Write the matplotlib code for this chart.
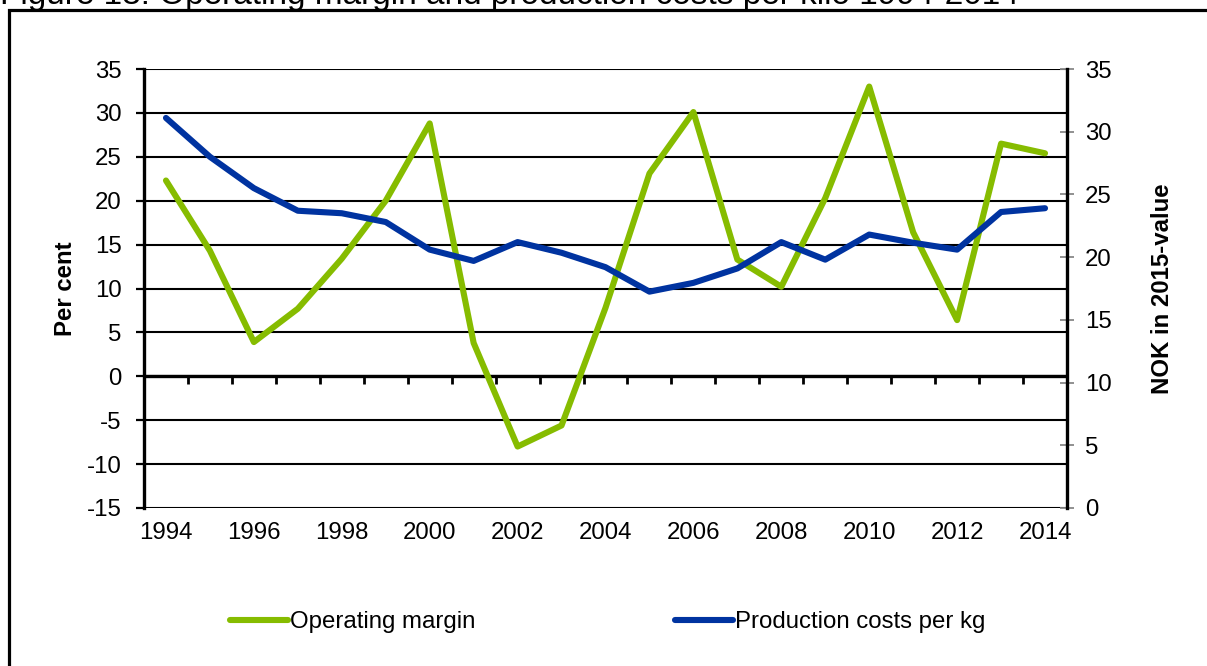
import matplotlib
matplotlib.use("Agg")
import matplotlib.pyplot as plt
from matplotlib.lines import Line2D
from matplotlib.patches import Rectangle
import numpy as np

plt.rcParams['font.family'] = ['Liberation Sans', 'DejaVu Sans']
plt.rcParams['axes.unicode_minus'] = False

years = list(range(1994, 2015))
operating_margin = [22.3, 14.3, 3.9, 7.7, 13.4, 20.0, 28.8, 3.8, -8.0, -5.6, 7.8,
                    23.1, 30.1, 13.3, 10.2, 20.3, 33.0, 16.4, 6.4, 26.5, 25.4]
production_costs = [31.1, 28.0, 25.5, 23.7, 23.5, 22.8, 20.6, 19.7, 21.2, 20.35, 19.2,
                    17.25, 17.95, 19.1, 21.2, 19.8, 21.8, 21.15, 20.6, 23.6, 23.9]
year_labels = [str(y) if (y - 1994) % 2 == 0 else "" for y in years]

title = "Figure 13: Operating margin and production costs per kilo 1994-2014"
green = '#86bc00'
blue = '#0033a0'
fs = 17.3

fig = plt.figure(figsize=(12.07, 6.66), dpi=100)
ax = fig.add_axes([144/1207, 1 - 508/666, (1067 - 144)/1207, (508 - 69)/666])
ax2 = ax.twinx()

x = np.arange(len(years))

ax.plot(x, operating_margin, color=green, lw=4.4, solid_joinstyle='round',
        solid_capstyle='round', zorder=3)
ax2.plot(x, production_costs, color=blue, lw=4.4, solid_joinstyle='round',
         solid_capstyle='round', zorder=3)

ax.set_xlim(-0.5, len(years) - 0.5)
ax.set_ylim(-15, 35)
ax.set_yticks(np.arange(-15, 36, 5))
ax2.set_ylim(0, 35)
ax2.set_yticks(np.arange(0, 36, 5))

# gridlines
ax.yaxis.grid(True, color='black', lw=1.5)
ax.set_axisbelow(True)
ax.axhline(0, color='black', lw=2.4, zorder=2)

# category labels along the bottom
ax.set_xticks(x)
ax.set_xticklabels(year_labels)
ax.tick_params(axis='x', length=0, pad=10, labelsize=fs)

# category separators on the zero line
sec = ax.secondary_xaxis(0.3)
sec.set_xticks(x[:-1] + 0.5)
sec.set_xticklabels([])
sec.tick_params(axis='x', direction='out', length=6, width=2, color='black')
sec.spines['bottom'].set_visible(False)

for s in ['top', 'bottom', 'right']:
    ax.spines[s].set_visible(False)
ax.spines['left'].set_linewidth(2.4)
ax.tick_params(axis='y', direction='out', length=6, width=1.6, pad=10, labelsize=fs)

for s in ['top', 'bottom', 'left']:
    ax2.spines[s].set_visible(False)
ax2.spines['right'].set_linewidth(2.4)
ax2.tick_params(axis='y', direction='inout', length=10, width=1.3, color='#888888',
                pad=8, labelsize=fs)

ax.set_ylabel("Per cent", fontsize=fs, fontweight='bold', labelpad=7)
ax2.set_ylabel("NOK in 2015-value", fontsize=fs, fontweight='bold', labelpad=28)

handles = [Line2D([], [], color=green, lw=4.4, solid_capstyle='round'),
           Line2D([], [], color=blue, lw=4.4, solid_capstyle='round')]
fig.legend(handles, ["Operating margin", "Production costs per kg"],
           loc='center', bbox_to_anchor=(608/1207, 1 - 622/666), ncol=2,
           frameon=False, fontsize=fs, handlelength=2.4, handletextpad=0.1,
           columnspacing=8.3)

# outer frame and cut-off caption
fig.patches.append(Rectangle((9/1207, -0.2), 1.2, 1.2 - 10/666, transform=fig.transFigure,
                             fill=False, edgecolor='black', lw=2.3, clip_on=False))
fig.text(0, 1 - 4/666, title, fontsize=24, va='baseline', ha='left')

fig.savefig("out.png", dpi=100)
